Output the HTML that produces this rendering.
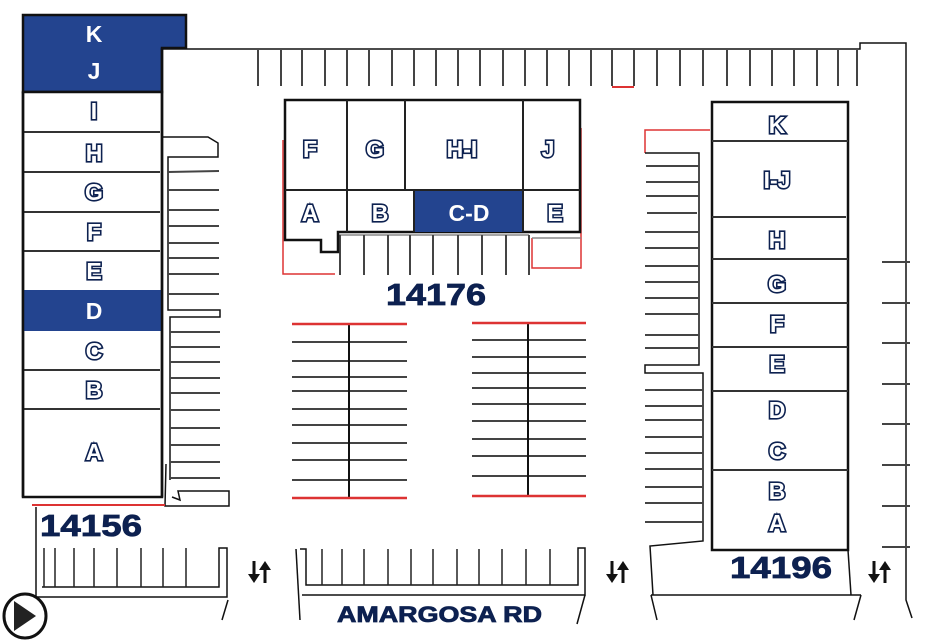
<!DOCTYPE html>
<html><head><meta charset="utf-8"><style>
html,body{margin:0;padding:0;background:#fff;}
svg{display:block;}
.L{font-family:"Liberation Sans",sans-serif;font-weight:bold;font-size:23px;fill:#fff;stroke:#0d2150;stroke-width:3.2px;paint-order:stroke;text-anchor:middle;}
.N{font-family:"Liberation Sans",sans-serif;font-weight:bold;fill:#0d2150;stroke:#0d2150;stroke-width:0.8px;}
</style></head><body>
<svg width="942" height="641" viewBox="0 0 942 641" xmlns="http://www.w3.org/2000/svg">
<g fill="none" stroke="#111" stroke-width="1.5">
<polyline points="162,49 860,49 860,43 906,43 906,600 912,618"/>
<g stroke="#444" stroke-width="2">
<line x1="258" y1="50" x2="258" y2="86"/><line x1="281" y1="50" x2="281" y2="86"/><line x1="302" y1="50" x2="302" y2="86"/><line x1="325" y1="50" x2="325" y2="86"/><line x1="347" y1="50" x2="347" y2="86"/><line x1="369" y1="50" x2="369" y2="86"/><line x1="392" y1="50" x2="392" y2="86"/><line x1="414" y1="50" x2="414" y2="86"/><line x1="436" y1="50" x2="436" y2="86"/><line x1="458" y1="50" x2="458" y2="86"/><line x1="480" y1="50" x2="480" y2="86"/><line x1="503" y1="50" x2="503" y2="86"/><line x1="525" y1="50" x2="525" y2="86"/><line x1="547" y1="50" x2="547" y2="86"/><line x1="569" y1="50" x2="569" y2="86"/><line x1="591" y1="50" x2="591" y2="86"/><line x1="612" y1="50" x2="612" y2="86"/><line x1="634" y1="50" x2="634" y2="86"/><line x1="657" y1="50" x2="657" y2="86"/><line x1="680" y1="50" x2="680" y2="86"/><line x1="703" y1="50" x2="703" y2="86"/><line x1="727" y1="50" x2="727" y2="86"/><line x1="750" y1="50" x2="750" y2="86"/><line x1="772" y1="50" x2="772" y2="86"/><line x1="794" y1="50" x2="794" y2="86"/><line x1="817" y1="50" x2="817" y2="86"/><line x1="838" y1="50" x2="838" y2="86"/><line x1="857" y1="50" x2="857" y2="86"/>
</g>
<line x1="612" y1="87" x2="634" y2="87" stroke="#d33" stroke-width="2"/>

<polyline points="162,137 208,137 218,143 218,157 168,157 168,310 220,310 220,317 170,317 170,480"/>
<g stroke="#444" stroke-width="2">
<line x1="168" y1="172" x2="219" y2="171"/><line x1="168" y1="190" x2="219" y2="190"/><line x1="168" y1="210" x2="219" y2="210"/><line x1="168" y1="226" x2="219" y2="226"/><line x1="168" y1="243" x2="219" y2="243"/><line x1="168" y1="258" x2="219" y2="258"/><line x1="168" y1="274" x2="219" y2="274"/><line x1="168" y1="294" x2="219" y2="294"/>
<line x1="170" y1="332" x2="220" y2="332"/><line x1="170" y1="347" x2="220" y2="347"/><line x1="170" y1="362" x2="220" y2="362"/><line x1="170" y1="378" x2="220" y2="378"/><line x1="170" y1="393" x2="220" y2="393"/><line x1="170" y1="410" x2="220" y2="410"/><line x1="170" y1="428" x2="220" y2="428"/><line x1="170" y1="445" x2="220" y2="445"/><line x1="170" y1="462" x2="220" y2="462"/><line x1="170" y1="478" x2="220" y2="478"/>
</g>
<polyline points="166,464 165,506 229,506 229,491 178,491 180,500 172,497"/>

<polyline points="283,140 283,274 335,274" stroke="#d33"/>
<polyline points="581,128 581,268 532,268 532,238" stroke="#d33"/>
<line x1="532" y1="238" x2="581" y2="238" stroke="#888"/>
<line x1="338" y1="235" x2="529" y2="235" stroke="#888"/>
<g stroke="#444" stroke-width="2">
<line x1="340" y1="235" x2="340" y2="275"/><line x1="364" y1="235" x2="364" y2="275"/><line x1="388" y1="235" x2="388" y2="275"/><line x1="410" y1="235" x2="410" y2="275"/><line x1="433" y1="235" x2="433" y2="275"/><line x1="458" y1="235" x2="458" y2="275"/><line x1="482" y1="235" x2="482" y2="275"/><line x1="506" y1="235" x2="506" y2="275"/><line x1="529" y1="235" x2="529" y2="275"/>
</g>

<g stroke="#444" stroke-width="2">
<line x1="292" y1="342" x2="407" y2="342"/><line x1="292" y1="361" x2="407" y2="361"/><line x1="292" y1="377" x2="407" y2="377"/><line x1="292" y1="391" x2="407" y2="391"/><line x1="292" y1="409" x2="407" y2="409"/><line x1="292" y1="425" x2="407" y2="425"/><line x1="292" y1="443" x2="407" y2="443"/><line x1="292" y1="460" x2="407" y2="460"/><line x1="292" y1="480" x2="407" y2="480"/>
<line x1="472" y1="340" x2="586" y2="340"/><line x1="472" y1="357" x2="586" y2="357"/><line x1="472" y1="373" x2="586" y2="373"/><line x1="472" y1="388" x2="586" y2="388"/><line x1="472" y1="404" x2="586" y2="404"/><line x1="472" y1="421" x2="586" y2="421"/><line x1="472" y1="439" x2="586" y2="439"/><line x1="472" y1="456" x2="586" y2="456"/><line x1="472" y1="476" x2="586" y2="476"/>
</g>
<line x1="349" y1="325" x2="349" y2="498" stroke-width="2"/>
<line x1="528" y1="324" x2="528" y2="496" stroke-width="2"/>
<g stroke="#d33" stroke-width="2.5">
<line x1="292" y1="324" x2="407" y2="324"/><line x1="292" y1="498" x2="407" y2="498"/>
<line x1="472" y1="323" x2="586" y2="323"/><line x1="472" y1="496" x2="586" y2="496"/>
</g>

<polyline points="645,153 645,130 710,130" stroke="#d33"/>
<polyline points="645,153 699,153 699,365 645,365 645,373 703,373 703,541 650,546 653,595"/>
<g stroke="#444" stroke-width="2">
<line x1="646" y1="166" x2="699" y2="166"/><line x1="646" y1="182" x2="699" y2="182"/><line x1="646" y1="196" x2="699" y2="196"/><line x1="647" y1="213" x2="697" y2="213"/><line x1="645" y1="232" x2="699" y2="232"/><line x1="645" y1="248" x2="699" y2="248"/><line x1="645" y1="266" x2="699" y2="266"/><line x1="645" y1="282" x2="699" y2="282"/><line x1="645" y1="298" x2="699" y2="298"/><line x1="645" y1="314" x2="699" y2="314"/><line x1="645" y1="335" x2="699" y2="335"/><line x1="645" y1="348" x2="699" y2="348"/>
<line x1="645" y1="390" x2="703" y2="390"/><line x1="645" y1="406" x2="703" y2="406"/><line x1="645" y1="420" x2="703" y2="420"/><line x1="645" y1="437" x2="703" y2="437"/><line x1="645" y1="453" x2="703" y2="453"/><line x1="645" y1="469" x2="703" y2="469"/><line x1="645" y1="487" x2="703" y2="487"/><line x1="645" y1="503" x2="703" y2="503"/><line x1="645" y1="522" x2="703" y2="522"/>
<line x1="882" y1="262" x2="910" y2="262"/><line x1="882" y1="303" x2="910" y2="303"/><line x1="882" y1="343" x2="910" y2="343"/><line x1="882" y1="384" x2="910" y2="384"/><line x1="882" y1="424" x2="910" y2="424"/><line x1="882" y1="465" x2="910" y2="465"/><line x1="882" y1="506" x2="910" y2="506"/><line x1="882" y1="547" x2="910" y2="547"/>
</g>
<polyline points="848,550 851,595"/>
<line x1="651" y1="595" x2="861" y2="595"/>
<line x1="651" y1="595" x2="657" y2="620"/><line x1="861" y1="595" x2="854" y2="620"/>

<line x1="32" y1="505" x2="165" y2="505" stroke="#d33" stroke-width="2"/>
<polyline points="36,507 36,597 227,597 227,548 219,548 219,587 42,587"/>
<g stroke="#222" stroke-width="1.5">
<line x1="44" y1="548" x2="44" y2="587"/><line x1="55" y1="548" x2="55" y2="587"/><line x1="74" y1="548" x2="74" y2="587"/><line x1="94" y1="548" x2="94" y2="587"/><line x1="117" y1="548" x2="117" y2="587"/><line x1="141" y1="548" x2="141" y2="587"/><line x1="163" y1="548" x2="163" y2="587"/><line x1="186" y1="548" x2="186" y2="587"/>
</g>
<line x1="228" y1="600" x2="222" y2="620"/>
<polyline points="300,549 306,549 306,585 578,585 578,548 585,548 585,595 302,595"/>
<line x1="296" y1="549" x2="300" y2="620"/>
<line x1="585" y1="595" x2="577" y2="624"/>
<g stroke="#222" stroke-width="1.5">
<line x1="322" y1="549" x2="322" y2="585"/><line x1="342" y1="549" x2="342" y2="585"/><line x1="364" y1="549" x2="364" y2="585"/><line x1="388" y1="549" x2="388" y2="585"/><line x1="411" y1="549" x2="411" y2="585"/><line x1="433" y1="549" x2="433" y2="585"/><line x1="457" y1="549" x2="457" y2="585"/><line x1="479" y1="549" x2="479" y2="585"/><line x1="502" y1="549" x2="502" y2="585"/><line x1="526" y1="549" x2="526" y2="585"/><line x1="550" y1="549" x2="550" y2="585"/>
</g>
</g>

<path d="M23,15 H186 V48 H162 V92 H23 Z" fill="#23448f" stroke="#111" stroke-width="2.5"/>
<rect x="23" y="92" width="139" height="405" fill="#fff" stroke="#111" stroke-width="2.5"/>
<rect x="23" y="290" width="139" height="41" fill="#23448f"/>
<g stroke="#333" stroke-width="2">
<line x1="23" y1="132" x2="160" y2="132"/><line x1="23" y1="172" x2="160" y2="172"/><line x1="23" y1="212" x2="160" y2="212"/><line x1="23" y1="251" x2="160" y2="251"/><line x1="23" y1="370" x2="160" y2="370"/><line x1="23" y1="409" x2="160" y2="409"/>
</g>
<line x1="23" y1="92" x2="23" y2="497" stroke="#111" stroke-width="2.5"/>
<line x1="162" y1="48" x2="162" y2="497" stroke="#111" stroke-width="2.5"/>
<text class="L" x="94" y="42" style="stroke:none">K</text>
<text class="L" x="94" y="79" style="stroke:none">J</text>
<text class="L" x="94" y="119">I</text>
<text class="L" x="94" y="161">H</text>
<text class="L" x="94" y="200">G</text>
<text class="L" x="94" y="240">F</text>
<text class="L" x="94" y="279">E</text>
<text class="L" x="94" y="319" style="stroke:none">D</text>
<text class="L" x="94" y="359">C</text>
<text class="L" x="94" y="398">B</text>
<text class="L" x="94" y="460">A</text>

<path d="M285,100 H580 V232 H338 V252 H321 V240 H285 Z" fill="#fff" stroke="#111" stroke-width="2.5"/>
<rect x="414" y="190" width="109" height="42" fill="#23448f"/>
<g stroke="#222" stroke-width="2">
<line x1="285" y1="190" x2="580" y2="190"/>
<line x1="347" y1="100" x2="347" y2="232"/><line x1="405" y1="100" x2="405" y2="190"/><line x1="523" y1="100" x2="523" y2="232"/><line x1="414" y1="190" x2="414" y2="232"/>
</g>
<text class="L" x="310" y="157">F</text>
<text class="L" x="375" y="157">G</text>
<text class="L" x="462" y="157">H-I</text>
<text class="L" x="548" y="157">J</text>
<text class="L" x="310" y="221">A</text>
<text class="L" x="380" y="221">B</text>
<text class="L" x="469" y="221" style="stroke:none">C-D</text>
<text class="L" x="555" y="221">E</text>

<rect x="712" y="102" width="136" height="448" fill="#fff" stroke="#111" stroke-width="2.5"/>
<g stroke="#333" stroke-width="2">
<line x1="712" y1="141" x2="848" y2="141"/><line x1="712" y1="217" x2="846" y2="217"/><line x1="712" y1="259" x2="848" y2="259"/><line x1="712" y1="303" x2="848" y2="303"/><line x1="712" y1="347" x2="848" y2="347"/><line x1="712" y1="391" x2="848" y2="391"/><line x1="712" y1="470" x2="848" y2="470"/>
</g>
<text class="L" x="777" y="133">K</text>
<text class="L" x="777" y="188">I-J</text>
<text class="L" x="777" y="248">H</text>
<text class="L" x="777" y="292">G</text>
<text class="L" x="777" y="332">F</text>
<text class="L" x="777" y="372">E</text>
<text class="L" x="777" y="418">D</text>
<text class="L" x="777" y="459">C</text>
<text class="L" x="777" y="499">B</text>
<text class="L" x="777" y="531">A</text>

<text class="N" x="436" y="305" font-size="31" text-anchor="middle" textLength="100" lengthAdjust="spacingAndGlyphs">14176</text>
<text class="N" x="40" y="536" font-size="31" textLength="102" lengthAdjust="spacingAndGlyphs">14156</text>
<text class="N" x="730" y="578" font-size="31" textLength="102" lengthAdjust="spacingAndGlyphs">14196</text>
<text class="N" x="337" y="622" font-size="22" textLength="205" lengthAdjust="spacingAndGlyphs">AMARGOSA RD</text>

<g fill="#111" stroke="#111" stroke-width="3">
<g transform="translate(254,572)"><line x1="0" y1="-11" x2="0" y2="5"/><path d="M-6,2 L6,2 L0,11 Z" stroke="none"/><line x1="11" y1="-4" x2="11" y2="11"/><path d="M5,-2 L17,-2 L11,-11 Z" stroke="none"/></g>
<g transform="translate(612,572)"><line x1="0" y1="-11" x2="0" y2="5"/><path d="M-6,2 L6,2 L0,11 Z" stroke="none"/><line x1="11" y1="-4" x2="11" y2="11"/><path d="M5,-2 L17,-2 L11,-11 Z" stroke="none"/></g>
<g transform="translate(874,572)"><line x1="0" y1="-11" x2="0" y2="5"/><path d="M-6,2 L6,2 L0,11 Z" stroke="none"/><line x1="11" y1="-4" x2="11" y2="11"/><path d="M5,-2 L17,-2 L11,-11 Z" stroke="none"/></g>
</g>
<ellipse cx="25" cy="616" rx="21" ry="22" fill="#fff" stroke="#111" stroke-width="3"/>
<path d="M14,601 L36,616 L14,631 Z" fill="#222"/>
</svg>
</body></html>
